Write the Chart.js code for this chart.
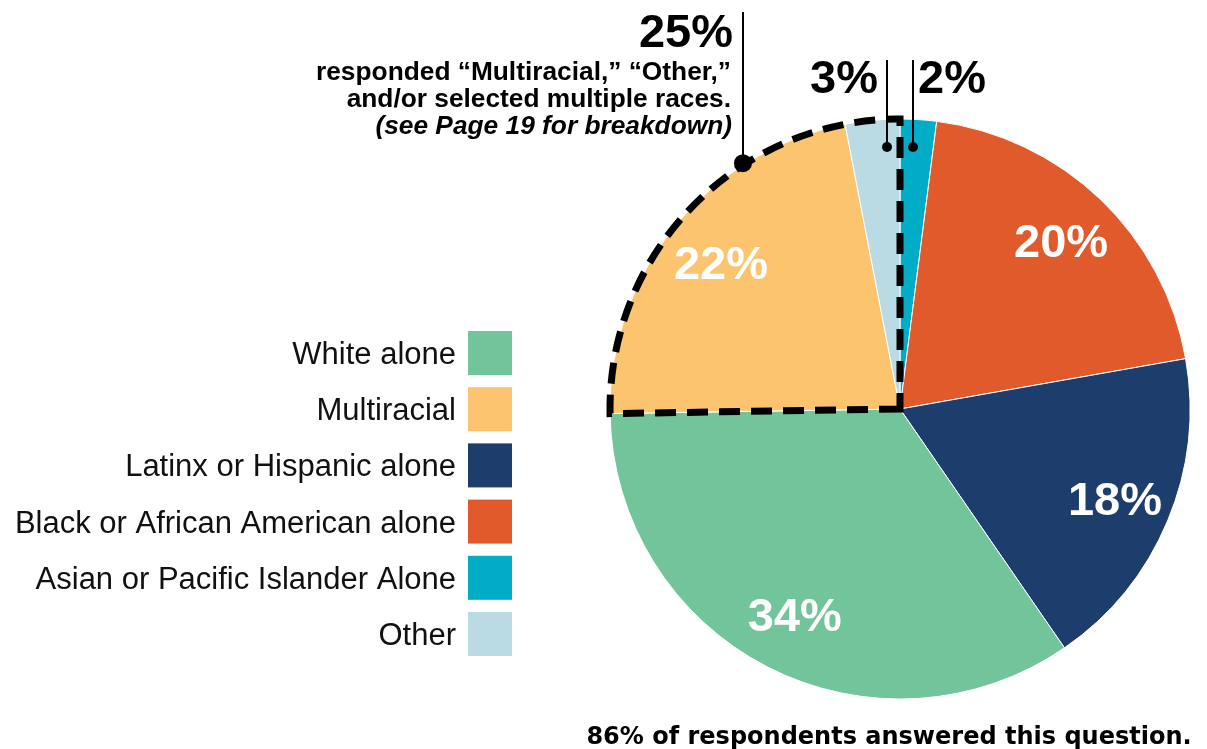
<!DOCTYPE html>
<html>
<head>
<meta charset="utf-8">
<script src="https://cdn.jsdelivr.net/npm/chart.js@4.4.0/dist/chart.umd.min.js"></script>
<style>
  html, body { margin: 0; padding: 0; background: #fff; }
  canvas { display: block; }
</style>
</head>
<body>
<canvas id="chart" width="1207" height="749"></canvas>
<script>
// slices, clockwise from 12 o'clock
const categories = ['Asian or Pacific Islander Alone', 'Black or African American alone', 'Latinx or Hispanic alone', 'White alone', 'Multiracial', 'Other'];
const shares = [2, 20, 18, 34, 22, 3];
const sliceColors = ['#00acc6', '#e05a2b', '#1d3d6c', '#72c49a', '#fdc470', '#badae4'];

// legend runs top to bottom in this order
const legendOrder = ['White alone', 'Multiracial', 'Latinx or Hispanic alone', 'Black or African American alone', 'Asian or Pacific Islander Alone', 'Other'];

const groupNote = ['responded \u201cMultiracial,\u201d \u201cOther,\u201d', 'and/or selected multiple races.'];
const groupRef = '(see Page 19 for breakdown)';
const footnote = '86% of respondents answered this question.';

const SANS = '"Liberation Sans", Arial, Helvetica, sans-serif';

const annotate = {
  id: 'annotate',
  afterDatasetsDraw(chart) {
    const ctx = chart.ctx;
    const arcs = chart.getDatasetMeta(0).data;
    const cx = arcs[0].x, cy = arcs[0].y, r = arcs[0].outerRadius;
    const iMulti = categories.indexOf('Multiracial');
    const iOther = categories.indexOf('Other');
    const iAsian = categories.indexOf('Asian or Pacific Islander Alone');

    ctx.save();

    // white values inside the big slices
    ctx.fillStyle = '#fff';
    ctx.font = 'bold 47px ' + SANS;
    ctx.textAlign = 'center';
    ctx.textBaseline = 'alphabetic';
    arcs.forEach((arc, i) => {
      if (shares[i] < 10) return;
      const mid = (arc.startAngle + arc.endAngle) / 2;
      ctx.fillText(shares[i] + '%', cx + 1 + Math.cos(mid) * r * 0.8, cy + Math.sin(mid) * r * 0.8 + 16);
    });

    // dashed outline round Multiracial + Other
    const a0 = arcs[iMulti].startAngle, a1 = arcs[iOther].endAngle;
    ctx.beginPath();
    ctx.moveTo(cx, cy);
    ctx.lineTo(cx + Math.cos(a0) * r, cy + Math.sin(a0) * r);
    ctx.arc(cx, cy, r, a0, a1);
    ctx.closePath();
    ctx.setLineDash([21, 11]);
    ctx.lineWidth = 7;
    ctx.strokeStyle = '#000';
    ctx.stroke();
    ctx.setLineDash([]);

    // leader lines and dots
    ctx.lineWidth = 2;
    ctx.fillStyle = '#000';
    const leader = (x, y0, y1, dot) => {
      ctx.beginPath();
      ctx.moveTo(x, y0);
      ctx.lineTo(x, y1);
      ctx.stroke();
      ctx.beginPath();
      ctx.arc(x, y1, dot, 0, Math.PI * 2);
      ctx.fill();
    };
    const gx = cx - 157;
    leader(gx, 12, cy - Math.sqrt(r * r - 157 * 157) - 2, 9);
    leader(cx - 13, 60, cy - 262, 5);
    leader(cx + 13, 60, cy - 262, 5);

    // callout texts
    ctx.font = 'bold 47px ' + SANS;
    ctx.textAlign = 'right';
    ctx.fillText((shares[iMulti] + shares[iOther]) + '%', gx - 10, 47);
    ctx.fillText(shares[iOther] + '%', cx - 22, 93);
    ctx.textAlign = 'left';
    ctx.fillText(shares[iAsian] + '%', cx + 18, 93);

    ctx.textAlign = 'right';
    ctx.font = 'bold 26.3px ' + SANS;
    ctx.fillText(groupNote[0], gx - 12, 80);
    ctx.fillText(groupNote[1], gx - 12, 107);
    ctx.font = 'italic bold 26.3px ' + SANS;
    ctx.fillText(groupRef, gx - 11, 134);

    // legend, labels right-aligned against the swatches
    ctx.font = '31px ' + SANS;
    ctx.textAlign = 'right';
    legendOrder.forEach((name, k) => {
      const y = 331 + k * 56.2;
      ctx.fillStyle = sliceColors[categories.indexOf(name)];
      ctx.fillRect(468, y, 44, 44);
      ctx.fillStyle = '#111';
      ctx.fillText(name, 456, y + 33);
    });

    // footnote
    ctx.fillStyle = '#000';
    ctx.font = 'bold 24px "DejaVu Sans", sans-serif';
    ctx.textAlign = 'center';
    ctx.fillText(footnote, 889, 744);

    ctx.restore();
  }
};

new Chart(document.getElementById('chart'), {
  type: 'pie',
  data: {
    labels: categories,
    datasets: [{
      data: shares,
      backgroundColor: sliceColors,
      borderColor: '#fff',
      borderWidth: 1,
      radius: 290
    }]
  },
  options: {
    responsive: false,
    animation: false,
    layout: { padding: { left: 610, right: 17, top: 118, bottom: 49 } },
    plugins: {
      legend: { display: false },
      tooltip: { enabled: false }
    }
  },
  plugins: [annotate]
});
</script>
</body>
</html>
